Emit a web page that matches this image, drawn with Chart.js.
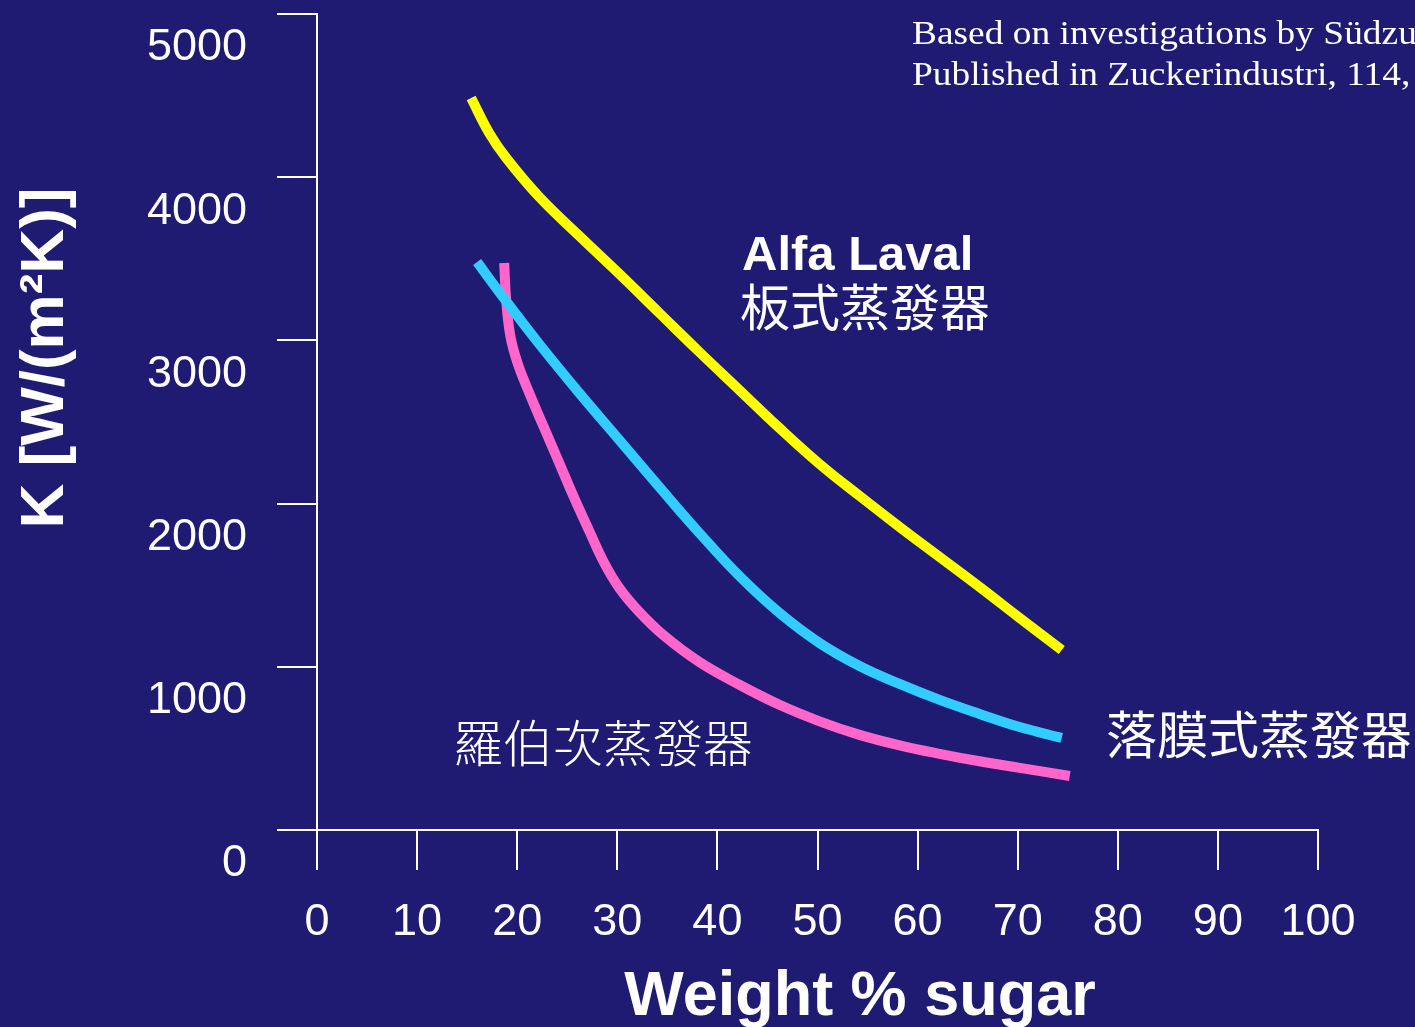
<!DOCTYPE html>
<html>
<head>
<meta charset="utf-8">
<script src="https://cdn.jsdelivr.net/npm/chart.js@4.4.1/dist/chart.umd.min.js"></script>
<style>
  html, body { margin: 0; padding: 0; background: #1F1B73; }
  canvas { display: block; }
</style>
</head>
<body>
<canvas id="chart" width="1415" height="1027"></canvas>
<script>
// values: weight % sugar -> K [W/(m2K)]
const plateX = [15.4, 17.2, 18.9, 22.2, 26.2, 30.2, 34.2, 38.2, 42.2, 46.2, 50.2, 54.2, 58.2, 62.2, 66.2, 70.2, 74.4]
const plateK = [4485, 4271, 4118, 3879, 3640, 3407, 3168, 2929, 2696, 2463, 2243, 2047, 1857, 1673, 1489, 1299, 1103]

const fallingX = [16.0, 18.2, 22.2, 26.2, 30.2, 34.2, 38.2, 42.2, 46.2, 50.2, 54.2, 58.2, 62.2, 66.2, 70.2, 74.4]
const fallingK = [3480, 3297, 2978, 2678, 2390, 2102, 1820, 1556, 1330, 1146, 1005, 895, 797, 711, 631, 564]

const robertX = [18.7, 18.9, 19.3, 20.0, 21.2, 22.7, 24.2, 25.7, 27.2, 28.7, 30.2, 32.2, 34.7, 38.2, 42.2, 46.2, 50.2, 54.2, 58.2, 62.2, 66.2, 70.2, 75.2]
const robertK = [3474, 3248, 3033, 2868, 2678, 2463, 2249, 2034, 1832, 1636, 1483, 1336, 1189, 1029, 890, 767, 666, 583, 519, 467, 421, 381, 331]

const xTicks = [0, 10, 20, 30, 40, 50, 60, 70, 80, 90, 100]
const yTicks = [0, 1000, 2000, 3000, 4000, 5000]

const toPoints = (xs, ys) => xs.map((x, i) => ({ x, y: ys[i] }))

const BG = '#1F1B73'
const SANS = '"Liberation Sans", Arial, sans-serif'
const CJK = '"Noto Sans CJK TC", "Noto Sans CJK SC", sans-serif'

// background + the free text on the slide
const slidePlugin = {
  id: 'slide',
  beforeDraw(chart) {
    const ctx = chart.ctx
    ctx.save()
    ctx.fillStyle = BG
    ctx.fillRect(0, 0, chart.width, chart.height)
    ctx.restore()
  },
  afterDraw(chart) {
    const ctx = chart.ctx
    ctx.save()
    ctx.fillStyle = '#ffffff'
    ctx.textAlign = 'left'
    ctx.textBaseline = 'alphabetic'

    // source note, a bit wider than plain Times in the original
    ctx.save()
    ctx.translate(912, 0)
    ctx.scale(1.1, 1)
    ctx.font = '34px "Liberation Serif", "Times New Roman", serif'
    ctx.fillText('Based on investigations by Südzu', 0, 44)
    ctx.fillText('Published in Zuckerindustri, 114,', 0, 85)
    ctx.restore()

    ctx.font = 'bold 49px ' + SANS
    ctx.fillText('Alfa Laval', 742, 270)

    ctx.textBaseline = 'middle'
    ctx.font = '50px ' + CJK
    ctx.fillText('板式蒸發器', 740, 307)

    ctx.font = '51px ' + CJK
    ctx.fillText('落膜式蒸發器', 1106, 735)

    ctx.font = '300 50px ' + CJK
    ctx.fillText('羅伯次蒸發器', 453, 743)

    // axis titles
    ctx.font = 'bold 63px ' + SANS
    ctx.textAlign = 'center'
    ctx.textBaseline = 'alphabetic'
    ctx.fillText('Weight % sugar', 860, 1015)

    ctx.translate(63, 358)
    ctx.rotate(-Math.PI / 2)
    ctx.font = 'bold 62px ' + SANS
    ctx.fillText('K [W/(m²K)]', 0, 0)
    ctx.restore()
  }
}

const lineStyle = color => ({
  borderColor: color,
  backgroundColor: color,
  borderWidth: 10,
  pointRadius: 0,
  tension: 0.4,
  fill: false
})

const config = {
  type: 'line',
  data: {
    datasets: [
      { label: 'Alfa Laval 板式蒸發器', data: toPoints(plateX, plateK), ...lineStyle('#FFFF00') },
      { label: '落膜式蒸發器', data: toPoints(fallingX, fallingK), ...lineStyle('#33CCFF') },
      { label: '羅伯次蒸發器', data: toPoints(robertX, robertK), ...lineStyle('#FF66CC') }
    ]
  },
  options: {
    responsive: false,
    animation: false,
    devicePixelRatio: 1,
    layout: { padding: { left: 0, top: 14, right: 97, bottom: 0 } },
    plugins: {
      legend: { display: false },
      tooltip: { enabled: false }
    },
    scales: {
      x: {
        type: 'linear',
        min: 0,
        max: 100,
        afterBuildTicks: scale => { scale.ticks = xTicks.map(v => ({ value: v })) },
        afterFit: scale => {
          scale.height = 197
          scale.paddingLeft = 0
          scale.paddingRight = 0
        },
        grid: { drawOnChartArea: false, drawTicks: true, tickLength: 40, color: '#ffffff', lineWidth: 2 },
        border: { display: true, color: '#ffffff', width: 2 },
        ticks: {
          color: '#ffffff',
          font: { family: SANS, size: 45 },
          padding: 26,
          maxRotation: 0,
          autoSkip: false,
          callback: v => String(v)
        }
      },
      y: {
        min: 0,
        max: 5000,
        afterBuildTicks: scale => { scale.ticks = yTicks.map(v => ({ value: v })) },
        afterFit: scale => {
          scale.width = 317
          scale.paddingTop = 0
          scale.paddingBottom = 0
        },
        grid: { drawOnChartArea: false, drawTicks: true, tickLength: 40, color: '#ffffff', lineWidth: 2 },
        border: { display: true, color: '#ffffff', width: 2 },
        ticks: {
          color: '#ffffff',
          font: { family: SANS, size: 45 },
          padding: 30,
          labelOffset: 34,
          autoSkip: false,
          callback: v => String(v)
        }
      }
    }
  },
  plugins: [slidePlugin]
}

new Chart(document.getElementById('chart').getContext('2d'), config)
</script>
</body>
</html>
